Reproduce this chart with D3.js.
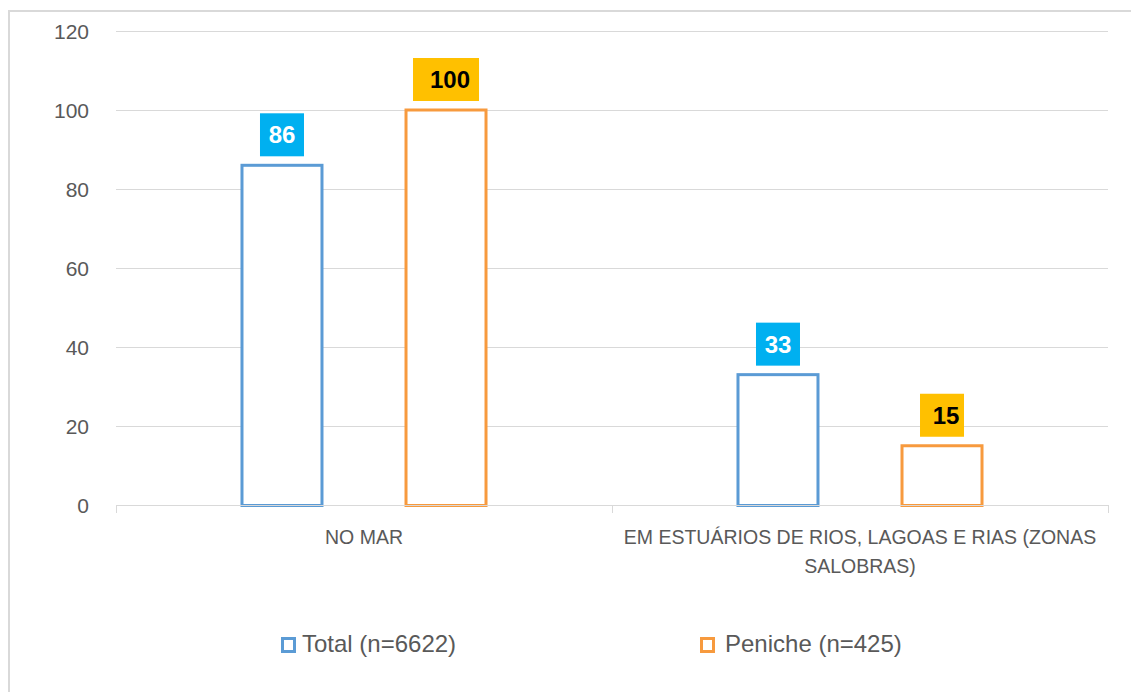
<!DOCTYPE html>
<html>
<head>
<meta charset="utf-8">
<script src="https://cdn.jsdelivr.net/npm/d3@7"></script>
<style>
  html, body { margin: 0; padding: 0; background: #fff; }
  svg { display: block; }
  text { font-family: "Liberation Sans", Arial, sans-serif; }
</style>
</head>
<body>
<svg id="chart" width="1131" height="692"></svg>
<script>
// ---- data ----
const categories = ["NO MAR", "EM ESTUÁRIOS DE RIOS, LAGOAS E RIAS (ZONAS SALOBRAS)"];
const seriesNames = ["Total (n=6622)", "Peniche (n=425)"];
const totalValues = [86, 33];
const penicheValues = [100, 15];
const yTicks = [0, 20, 40, 60, 80, 100, 120];

// ---- styles / layout ----
const W = 1131, H = 692;
const plot = { left: 116, right: 1108, top: 31, bottom: 505 };
const strokeColors = ["#5b9bd5", "#f79a3e"];
const boxColors = ["#00b0f0", "#ffc000"];
const boxTextColors = ["#ffffff", "#000000"];
const boxTextDx = [0, 4];
const gray = "#595959";
const gridColor = "#d9d9d9";

const svg = d3.select("#chart");
svg.append("rect").attr("width", W).attr("height", H).attr("fill", "#fff");
// outer frame
svg.append("rect").attr("x", 9).attr("y", 11).attr("width", W + 20).attr("height", H + 20)
  .attr("fill", "none").attr("stroke", gridColor).attr("stroke-width", 2);

const y = d3.scaleLinear().domain([0, 120]).range([plot.bottom, plot.top]);
const x0 = d3.scaleBand().domain(categories).range([plot.left, plot.right]).paddingInner(0).paddingOuter(0);
const x1 = d3.scaleBand().domain(seriesNames).range([0, x0.bandwidth()]).paddingInner(0.494).paddingOuter(0.759);

// gridlines
svg.append("g").selectAll("line").data(yTicks.filter(d => d > 0)).join("line")
  .attr("x1", plot.left).attr("x2", plot.right)
  .attr("y1", d => Math.round(y(d)) + 0.5).attr("y2", d => Math.round(y(d)) + 0.5)
  .attr("stroke", gridColor).attr("stroke-width", 1);

// y axis labels
const yAxis = d3.axisLeft(y).tickValues(yTicks).tickSize(0).tickPadding(0);
const gy = svg.append("g").attr("transform", `translate(${plot.left - 27},0)`).call(yAxis);
gy.select(".domain").remove();
gy.selectAll("text").attr("fill", gray).style("font-size", "21px")
  .style("font-family", "'Liberation Sans', Arial, sans-serif").attr("dy", "0.36em");

// bars
const seriesData = [totalValues, penicheValues];
const groups = svg.append("g").selectAll("g").data(categories).join("g")
  .attr("transform", d => `translate(${x0(d)},0)`);

groups.each(function(cat, ci) {
  const g = d3.select(this);
  seriesNames.forEach((s, si) => {
    const v = seriesData[si][ci];
    const bx = x1(s), bw = x1.bandwidth();
    g.append("rect")
      .attr("x", bx + 1.5).attr("width", bw - 3)
      .attr("y", y(v)).attr("height", y(0) - y(v) + 0.5)
      .attr("fill", "#fff").attr("stroke", strokeColors[si]).attr("stroke-width", 3);
  });
});

// x axis line and ticks
svg.append("line").attr("x1", plot.left).attr("x2", plot.right)
  .attr("y1", plot.bottom + 0.5).attr("y2", plot.bottom + 0.5)
  .attr("stroke", gridColor).attr("stroke-width", 1);
const boundaries = categories.map(c => x0(c)).concat([x0(categories[categories.length - 1]) + x0.bandwidth()]);
svg.append("g").selectAll("line").data(boundaries).join("line")
  .attr("x1", d => Math.round(d) + 0.5).attr("x2", d => Math.round(d) + 0.5)
  .attr("y1", plot.bottom).attr("y2", plot.bottom + 8)
  .attr("stroke", gridColor).attr("stroke-width", 1);

// data labels
groups.each(function(cat, ci) {
  const g = d3.select(this);
  seriesNames.forEach((s, si) => {
    const v = seriesData[si][ci];
    const cx = x1(s) + x1.bandwidth() / 2;
    const label = String(v);
    const bw = 22 * label.length, bh = 43;
    const bottom = y(v) - 9;
    g.append("rect").attr("x", cx - bw / 2).attr("y", bottom - bh)
      .attr("width", bw).attr("height", bh).attr("fill", boxColors[si]);
    g.append("text").attr("x", cx + boxTextDx[si]).attr("y", bottom - bh / 2 + 8.5)
      .attr("text-anchor", "middle").attr("fill", boxTextColors[si])
      .style("font-size", "24px").style("font-weight", "bold").text(label);
  });
});

// category labels with wrapping
const catLabels = svg.append("g").selectAll("text").data(categories).join("text")
  .attr("x", d => x0(d) + x0.bandwidth() / 2)
  .attr("y", 544)
  .attr("text-anchor", "middle").attr("fill", gray).style("font-size", "19.5px");

catLabels.each(function(d) {
  const t = d3.select(this);
  const maxW = x0.bandwidth() - 8;
  const words = d.split(" ");
  let line = [];
  let tspan = t.append("tspan").attr("x", t.attr("x")).attr("dy", 0);
  words.forEach(w => {
    line.push(w);
    tspan.text(line.join(" "));
    if (tspan.node().getComputedTextLength() > maxW && line.length > 1) {
      line.pop();
      tspan.text(line.join(" "));
      line = [w];
      tspan = t.append("tspan").attr("x", t.attr("x")).attr("dy", 29).text(w);
    }
  });
});

// legend
const legendX = [282.5, 701.5];
const legend = svg.append("g").selectAll("g").data(seriesNames).join("g")
  .attr("transform", (d, i) => `translate(${legendX[i]},0)`);
legend.append("rect").attr("x", 0).attr("y", 638.5).attr("width", 12).attr("height", 13)
  .attr("fill", "#fff").attr("stroke", (d, i) => strokeColors[i]).attr("stroke-width", 3);
legend.append("text").attr("x", (d, i) => i === 0 ? 19.5 : 23.5).attr("y", 652)
  .attr("fill", gray).style("font-size", "24px").text(d => d);
</script>
</body>
</html>
